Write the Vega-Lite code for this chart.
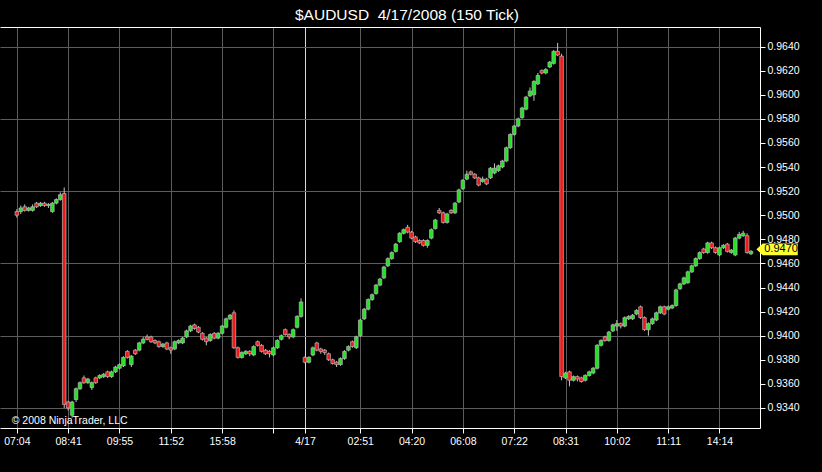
{
"$schema":"https://vega.github.io/schema/vega-lite/v6.json",
"width":760,"height":401,
"autosize":{"type":"none"},
"padding":{"left":0,"top":27,"right":62,"bottom":44},
"background":"#000000",
"title":{"text":"$AUDUSD \u00a04/17/2008 (150 Tick)","color":"#ffffff","font":"Liberation Sans","fontSize":15.5,"fontWeight":"normal","anchor":"middle","dx":27,"dy":16,"offset":8,"baseline":"alphabetic"},
"config":{"view":{"stroke":null},"axis":{"labelFont":"Liberation Sans","labelColor":"#ffffff","labelFontSize":10.5,"domainColor":"#ffffff","tickColor":"#ffffff","title":null}},
"datasets":{
"bars":[
{"i":0,"o":0.9503,"h":0.9505,"l":0.9498,"c":0.9500},
{"i":1,"o":0.9503,"h":0.9508,"l":0.9501,"c":0.9506},
{"i":2,"o":0.9507,"h":0.9509,"l":0.9503,"c":0.9504},
{"i":3,"o":0.9504,"h":0.9507,"l":0.9503,"c":0.9506},
{"i":4,"o":0.9504,"h":0.9509,"l":0.9503,"c":0.9507},
{"i":5,"o":0.9510,"h":0.9511,"l":0.9506,"c":0.9507},
{"i":6,"o":0.9508,"h":0.9511,"l":0.9507,"c":0.9510},
{"i":7,"o":0.9510,"h":0.9511,"l":0.9507,"c":0.9508},
{"i":8,"o":0.9508,"h":0.9510,"l":0.9506,"c":0.9509},
{"i":9,"o":0.9503,"h":0.9511,"l":0.9502,"c":0.9510},
{"i":10,"o":0.9510,"h":0.9514,"l":0.9509,"c":0.9513},
{"i":11,"o":0.9513,"h":0.9519,"l":0.9512,"c":0.9517},
{"i":12,"o":0.9518,"h":0.9523,"l":0.9340,"c":0.9343},
{"i":13,"o":0.9345,"h":0.9346,"l":0.9338,"c":0.9340},
{"i":14,"o":0.9334,"h":0.9346,"l":0.9332,"c":0.9345},
{"i":15,"o":0.9347,"h":0.9357,"l":0.9345,"c":0.9356},
{"i":16,"o":0.9356,"h":0.9362,"l":0.9355,"c":0.9361},
{"i":17,"o":0.9365,"h":0.9367,"l":0.9360,"c":0.9361},
{"i":18,"o":0.9361,"h":0.9365,"l":0.9360,"c":0.9364},
{"i":19,"o":0.9357,"h":0.9362,"l":0.9355,"c":0.9361},
{"i":20,"o":0.9365,"h":0.9366,"l":0.9360,"c":0.9361},
{"i":21,"o":0.9365,"h":0.9368,"l":0.9364,"c":0.9367},
{"i":22,"o":0.9366,"h":0.9369,"l":0.9365,"c":0.9368},
{"i":23,"o":0.9370,"h":0.9371,"l":0.9365,"c":0.9366},
{"i":24,"o":0.9366,"h":0.9371,"l":0.9365,"c":0.9370},
{"i":25,"o":0.9370,"h":0.9375,"l":0.9369,"c":0.9374},
{"i":26,"o":0.9373,"h":0.9377,"l":0.9372,"c":0.9376},
{"i":27,"o":0.9375,"h":0.9383,"l":0.9374,"c":0.9382},
{"i":28,"o":0.9387,"h":0.9388,"l":0.9381,"c":0.9382},
{"i":29,"o":0.9376,"h":0.9384,"l":0.9374,"c":0.9383},
{"i":30,"o":0.9388,"h":0.9389,"l":0.9384,"c":0.9385},
{"i":31,"o":0.9388,"h":0.9395,"l":0.9387,"c":0.9394},
{"i":32,"o":0.9394,"h":0.9399,"l":0.9393,"c":0.9397},
{"i":33,"o":0.9399,"h":0.9401,"l":0.9396,"c":0.9397},
{"i":34,"o":0.9399,"h":0.9400,"l":0.9394,"c":0.9395},
{"i":35,"o":0.9396,"h":0.9397,"l":0.9393,"c":0.9394},
{"i":36,"o":0.9395,"h":0.9396,"l":0.9390,"c":0.9391},
{"i":37,"o":0.9391,"h":0.9394,"l":0.9390,"c":0.9393},
{"i":38,"o":0.9394,"h":0.9395,"l":0.9388,"c":0.9389},
{"i":39,"o":0.9390,"h":0.9391,"l":0.9385,"c":0.9388},
{"i":40,"o":0.9389,"h":0.9396,"l":0.9388,"c":0.9395},
{"i":41,"o":0.9394,"h":0.9397,"l":0.9393,"c":0.9396},
{"i":42,"o":0.9394,"h":0.9399,"l":0.9393,"c":0.9398},
{"i":43,"o":0.9399,"h":0.9405,"l":0.9398,"c":0.9404},
{"i":44,"o":0.9404,"h":0.9409,"l":0.9403,"c":0.9408},
{"i":45,"o":0.9409,"h":0.9410,"l":0.9405,"c":0.9406},
{"i":46,"o":0.9407,"h":0.9408,"l":0.9402,"c":0.9403},
{"i":47,"o":0.9402,"h":0.9403,"l":0.9396,"c":0.9397},
{"i":48,"o":0.9398,"h":0.9399,"l":0.9392,"c":0.9395},
{"i":49,"o":0.9396,"h":0.9402,"l":0.9395,"c":0.9401},
{"i":50,"o":0.9402,"h":0.9403,"l":0.9397,"c":0.9398},
{"i":51,"o":0.9398,"h":0.9403,"l":0.9397,"c":0.9402},
{"i":52,"o":0.9402,"h":0.9409,"l":0.9401,"c":0.9408},
{"i":53,"o":0.9407,"h":0.9415,"l":0.9406,"c":0.9414},
{"i":54,"o":0.9414,"h":0.9418,"l":0.9413,"c":0.9417},
{"i":55,"o":0.9419,"h":0.9421,"l":0.9389,"c":0.9390},
{"i":56,"o":0.9390,"h":0.9391,"l":0.9381,"c":0.9382},
{"i":57,"o":0.9382,"h":0.9387,"l":0.9381,"c":0.9386},
{"i":58,"o":0.9385,"h":0.9388,"l":0.9384,"c":0.9387},
{"i":59,"o":0.9387,"h":0.9388,"l":0.9383,"c":0.9385},
{"i":60,"o":0.9384,"h":0.9392,"l":0.9383,"c":0.9391},
{"i":61,"o":0.9395,"h":0.9396,"l":0.9391,"c":0.9392},
{"i":62,"o":0.9392,"h":0.9393,"l":0.9386,"c":0.9387},
{"i":63,"o":0.9388,"h":0.9389,"l":0.9384,"c":0.9385},
{"i":64,"o":0.9387,"h":0.9388,"l":0.9382,"c":0.9385},
{"i":65,"o":0.9384,"h":0.9391,"l":0.9383,"c":0.9390},
{"i":66,"o":0.9390,"h":0.9397,"l":0.9389,"c":0.9396},
{"i":67,"o":0.9397,"h":0.9401,"l":0.9396,"c":0.9400},
{"i":68,"o":0.9405,"h":0.9406,"l":0.9400,"c":0.9401},
{"i":69,"o":0.9401,"h":0.9402,"l":0.9397,"c":0.9399},
{"i":70,"o":0.9399,"h":0.9406,"l":0.9398,"c":0.9405},
{"i":71,"o":0.9407,"h":0.9417,"l":0.9406,"c":0.9416},
{"i":72,"o":0.9416,"h":0.9431,"l":0.9415,"c":0.9428},
{"i":73,"o":0.9382,"h":0.9383,"l":0.9377,"c":0.9378},
{"i":74,"o":0.9378,"h":0.9383,"l":0.9377,"c":0.9382},
{"i":75,"o":0.9384,"h":0.9391,"l":0.9383,"c":0.9390},
{"i":76,"o":0.9394,"h":0.9395,"l":0.9387,"c":0.9388},
{"i":77,"o":0.9389,"h":0.9390,"l":0.9385,"c":0.9387},
{"i":78,"o":0.9388,"h":0.9389,"l":0.9384,"c":0.9386},
{"i":79,"o":0.9385,"h":0.9386,"l":0.9379,"c":0.9380},
{"i":80,"o":0.9380,"h":0.9381,"l":0.9376,"c":0.9377},
{"i":81,"o":0.9378,"h":0.9379,"l":0.9374,"c":0.9376},
{"i":82,"o":0.9376,"h":0.9382,"l":0.9375,"c":0.9381},
{"i":83,"o":0.9381,"h":0.9388,"l":0.9380,"c":0.9387},
{"i":84,"o":0.9388,"h":0.9392,"l":0.9387,"c":0.9391},
{"i":85,"o":0.9395,"h":0.9396,"l":0.9390,"c":0.9391},
{"i":86,"o":0.9390,"h":0.9400,"l":0.9389,"c":0.9399},
{"i":87,"o":0.9400,"h":0.9414,"l":0.9399,"c":0.9413},
{"i":88,"o":0.9414,"h":0.9423,"l":0.9413,"c":0.9422},
{"i":89,"o":0.9422,"h":0.9431,"l":0.9421,"c":0.9430},
{"i":90,"o":0.9430,"h":0.9435,"l":0.9429,"c":0.9434},
{"i":91,"o":0.9435,"h":0.9443,"l":0.9434,"c":0.9442},
{"i":92,"o":0.9442,"h":0.9448,"l":0.9441,"c":0.9447},
{"i":93,"o":0.9448,"h":0.9458,"l":0.9447,"c":0.9457},
{"i":94,"o":0.9458,"h":0.9465,"l":0.9457,"c":0.9464},
{"i":95,"o":0.9464,"h":0.9470,"l":0.9463,"c":0.9469},
{"i":96,"o":0.9470,"h":0.9477,"l":0.9469,"c":0.9476},
{"i":97,"o":0.9478,"h":0.9486,"l":0.9477,"c":0.9485},
{"i":98,"o":0.9485,"h":0.9489,"l":0.9484,"c":0.9488},
{"i":99,"o":0.9490,"h":0.9492,"l":0.9485,"c":0.9486},
{"i":100,"o":0.9486,"h":0.9487,"l":0.9480,"c":0.9481},
{"i":101,"o":0.9482,"h":0.9483,"l":0.9477,"c":0.9478},
{"i":102,"o":0.9479,"h":0.9480,"l":0.9476,"c":0.9477},
{"i":103,"o":0.9479,"h":0.9480,"l":0.9474,"c":0.9475},
{"i":104,"o":0.9475,"h":0.9480,"l":0.9473,"c":0.9479},
{"i":105,"o":0.9481,"h":0.9489,"l":0.9480,"c":0.9488},
{"i":106,"o":0.9489,"h":0.9497,"l":0.9488,"c":0.9496},
{"i":107,"o":0.9504,"h":0.9506,"l":0.9501,"c":0.9502},
{"i":108,"o":0.9502,"h":0.9503,"l":0.9493,"c":0.9494},
{"i":109,"o":0.9494,"h":0.9502,"l":0.9493,"c":0.9501},
{"i":110,"o":0.9504,"h":0.9505,"l":0.9501,"c":0.9502},
{"i":111,"o":0.9502,"h":0.9511,"l":0.9501,"c":0.9510},
{"i":112,"o":0.9511,"h":0.9522,"l":0.9510,"c":0.9521},
{"i":113,"o":0.9522,"h":0.9530,"l":0.9521,"c":0.9529},
{"i":114,"o":0.9530,"h":0.9537,"l":0.9529,"c":0.9534},
{"i":115,"o":0.9536,"h":0.9537,"l":0.9533,"c":0.9534},
{"i":116,"o":0.9534,"h":0.9535,"l":0.9530,"c":0.9531},
{"i":117,"o":0.9531,"h":0.9532,"l":0.9524,"c":0.9525},
{"i":118,"o":0.9528,"h":0.9532,"l":0.9527,"c":0.9530},
{"i":119,"o":0.9530,"h":0.9531,"l":0.9525,"c":0.9526},
{"i":120,"o":0.9531,"h":0.9540,"l":0.9530,"c":0.9539},
{"i":121,"o":0.9535,"h":0.9543,"l":0.9534,"c":0.9539},
{"i":122,"o":0.9537,"h":0.9542,"l":0.9536,"c":0.9541},
{"i":123,"o":0.9540,"h":0.9546,"l":0.9539,"c":0.9545},
{"i":124,"o":0.9545,"h":0.9557,"l":0.9544,"c":0.9556},
{"i":125,"o":0.9556,"h":0.9568,"l":0.9555,"c":0.9567},
{"i":126,"o":0.9567,"h":0.9575,"l":0.9566,"c":0.9574},
{"i":127,"o":0.9574,"h":0.9581,"l":0.9573,"c":0.9580},
{"i":128,"o":0.9581,"h":0.9590,"l":0.9580,"c":0.9589},
{"i":129,"o":0.9588,"h":0.9599,"l":0.9587,"c":0.9598},
{"i":130,"o":0.9599,"h":0.9606,"l":0.9598,"c":0.9603},
{"i":131,"o":0.9600,"h":0.9612,"l":0.9595,"c":0.9611},
{"i":132,"o":0.9609,"h":0.9618,"l":0.9608,"c":0.9616},
{"i":133,"o":0.9620,"h":0.9621,"l":0.9617,"c":0.9618},
{"i":134,"o":0.9618,"h":0.9622,"l":0.9617,"c":0.9621},
{"i":135,"o":0.9623,"h":0.9628,"l":0.9622,"c":0.9627},
{"i":136,"o":0.9626,"h":0.9637,"l":0.9625,"c":0.9636},
{"i":137,"o":0.9636,"h":0.9643,"l":0.9632,"c":0.9633},
{"i":138,"o":0.9632,"h":0.9634,"l":0.9363,"c":0.9366},
{"i":139,"o":0.9365,"h":0.9370,"l":0.9364,"c":0.9369},
{"i":140,"o":0.9370,"h":0.9371,"l":0.9358,"c":0.9363},
{"i":141,"o":0.9363,"h":0.9367,"l":0.9362,"c":0.9366},
{"i":142,"o":0.9366,"h":0.9367,"l":0.9362,"c":0.9364},
{"i":143,"o":0.9365,"h":0.9366,"l":0.9361,"c":0.9362},
{"i":144,"o":0.9363,"h":0.9368,"l":0.9362,"c":0.9367},
{"i":145,"o":0.9367,"h":0.9371,"l":0.9366,"c":0.9370},
{"i":146,"o":0.9369,"h":0.9374,"l":0.9368,"c":0.9373},
{"i":147,"o":0.9373,"h":0.9393,"l":0.9372,"c":0.9392},
{"i":148,"o":0.9392,"h":0.9397,"l":0.9391,"c":0.9396},
{"i":149,"o":0.9399,"h":0.9400,"l":0.9395,"c":0.9396},
{"i":150,"o":0.9396,"h":0.9404,"l":0.9395,"c":0.9403},
{"i":151,"o":0.9404,"h":0.9410,"l":0.9403,"c":0.9409},
{"i":152,"o":0.9408,"h":0.9413,"l":0.9404,"c":0.9410},
{"i":153,"o":0.9410,"h":0.9411,"l":0.9406,"c":0.9408},
{"i":154,"o":0.9408,"h":0.9416,"l":0.9407,"c":0.9415},
{"i":155,"o":0.9414,"h":0.9417,"l":0.9413,"c":0.9416},
{"i":156,"o":0.9414,"h":0.9418,"l":0.9413,"c":0.9417},
{"i":157,"o":0.9418,"h":0.9422,"l":0.9417,"c":0.9421},
{"i":158,"o":0.9424,"h":0.9425,"l":0.9414,"c":0.9415},
{"i":159,"o":0.9415,"h":0.9416,"l":0.9404,"c":0.9405},
{"i":160,"o":0.9405,"h":0.9411,"l":0.9400,"c":0.9410},
{"i":161,"o":0.9410,"h":0.9415,"l":0.9409,"c":0.9414},
{"i":162,"o":0.9413,"h":0.9420,"l":0.9412,"c":0.9419},
{"i":163,"o":0.9419,"h":0.9425,"l":0.9418,"c":0.9424},
{"i":164,"o":0.9424,"h":0.9425,"l":0.9417,"c":0.9418},
{"i":165,"o":0.9422,"h":0.9425,"l":0.9421,"c":0.9424},
{"i":166,"o":0.9423,"h":0.9426,"l":0.9422,"c":0.9425},
{"i":167,"o":0.9425,"h":0.9439,"l":0.9424,"c":0.9438},
{"i":168,"o":0.9439,"h":0.9444,"l":0.9438,"c":0.9443},
{"i":169,"o":0.9443,"h":0.9449,"l":0.9442,"c":0.9448},
{"i":170,"o":0.9444,"h":0.9454,"l":0.9443,"c":0.9453},
{"i":171,"o":0.9453,"h":0.9459,"l":0.9452,"c":0.9458},
{"i":172,"o":0.9458,"h":0.9465,"l":0.9457,"c":0.9464},
{"i":173,"o":0.9464,"h":0.9470,"l":0.9463,"c":0.9469},
{"i":174,"o":0.9472,"h":0.9473,"l":0.9468,"c":0.9469},
{"i":175,"o":0.9469,"h":0.9478,"l":0.9468,"c":0.9477},
{"i":176,"o":0.9477,"h":0.9478,"l":0.9472,"c":0.9473},
{"i":177,"o":0.9473,"h":0.9474,"l":0.9468,"c":0.9469},
{"i":178,"o":0.9467,"h":0.9474,"l":0.9466,"c":0.9473},
{"i":179,"o":0.9473,"h":0.9476,"l":0.9472,"c":0.9475},
{"i":180,"o":0.9476,"h":0.9477,"l":0.9469,"c":0.9470},
{"i":181,"o":0.9469,"h":0.9472,"l":0.9468,"c":0.9471},
{"i":182,"o":0.9467,"h":0.9482,"l":0.9466,"c":0.9481},
{"i":183,"o":0.9481,"h":0.9486,"l":0.9480,"c":0.9484},
{"i":184,"o":0.9483,"h":0.9487,"l":0.9482,"c":0.9485},
{"i":185,"o":0.9483,"h":0.9485,"l":0.9468,"c":0.9469},
{"i":186,"o":0.9468,"h":0.9471,"l":0.9467,"c":0.9470}
],
"tag":[{"last":0.9470}],
"note":[{"note":"© 2008 NinjaTrader, LLC"}]
},
"resolve":{"axis":{"x":"independent","y":"independent"}},
"layer":[
{"data":{"name":"bars"},
 "mark":{"type":"rule","color":"#c4c4c4","strokeWidth":1},
 "encoding":{
  "x":{"field":"i","type":"quantitative","scale":{"domain":[-3,187],"nice":false,"zero":false},
   "axis":{"orient":"bottom","values":[0,13,26,39,52,65,73,87,100,113,126,139,152,165,178],
    "labelExpr":"['07:04','08:41','09:55','11:52','15:58','','4/17','02:51','04:20','06:08','07:22','08:31','10:02','11:11','14:14'][indexof([0,13,26,39,52,65,73,87,100,113,126,139,152,165,178], datum.value)]",
    "labelFlush":false,"labelOverlap":false,"tickSize":5,"labelPadding":3,
    "grid":true,"gridColor":{"condition":{"test":"datum.value == 73","value":"#d8d8d8"},"value":"#5c5c5c"},"gridWidth":1}},
  "y":{"field":"l","type":"quantitative","scale":{"domain":[0.93234,0.96562],"nice":false,"zero":false},"axis":null},
  "y2":{"field":"h"}
 }},
{"data":{"name":"bars"},
 "mark":{"type":"bar","size":3.6,"stroke":"#b8b8b8","strokeWidth":0.7},
 "encoding":{
  "x":{"field":"i","type":"quantitative","axis":{"orient":"top","labels":false,"ticks":false,"grid":false}},
  "y":{"field":"o","type":"quantitative",
   "axis":{"orient":"right","values":[0.934,0.936,0.938,0.94,0.942,0.944,0.946,0.948,0.95,0.952,0.954,0.956,0.958,0.96,0.962,0.964],
    "format":".4f","tickSize":5,"labelPadding":2,"grid":true,"gridColor":"#5c5c5c",
    "gridOpacity":{"condition":{"test":"round(datum.value*10000) % 60 == 40","value":1},"value":0}}},
  "y2":{"field":"c"},
  "fill":{"condition":{"test":"datum.c < datum.o","value":"#ee1a1a"},"value":"#22e422"}
 }},
{"data":{"name":"tag"},
 "mark":{"type":"point","filled":true,"fill":"#ffff33","opacity":1,"strokeWidth":0,"size":400,
  "shape":"M-2.38,-0.2L-1.75,-0.785L1.75,-0.785L1.75,0.385L-1.75,0.385Z"},
 "encoding":{
  "x":{"datum":193.4,"type":"quantitative","axis":null},
  "y":{"field":"last","type":"quantitative","axis":null}
 }},
{"data":{"name":"tag"},
 "mark":{"type":"text","color":"#000000","font":"Liberation Sans","fontSize":11,"align":"center","baseline":"middle","dy":-2},
 "encoding":{
  "x":{"datum":193.6,"type":"quantitative","axis":null},
  "y":{"field":"last","type":"quantitative","axis":null},
  "text":{"field":"last","type":"quantitative","format":".4f"}
 }},
{"data":{"name":"note"},
 "mark":{"type":"text","color":"#ffffff","font":"Liberation Sans","fontSize":10.5,"align":"left","baseline":"middle"},
 "encoding":{
  "x":{"datum":-1.3,"type":"quantitative","axis":null},
  "y":{"datum":0.9329,"type":"quantitative","axis":null},
  "text":{"field":"note","type":"nominal"}
 }}
]
}
